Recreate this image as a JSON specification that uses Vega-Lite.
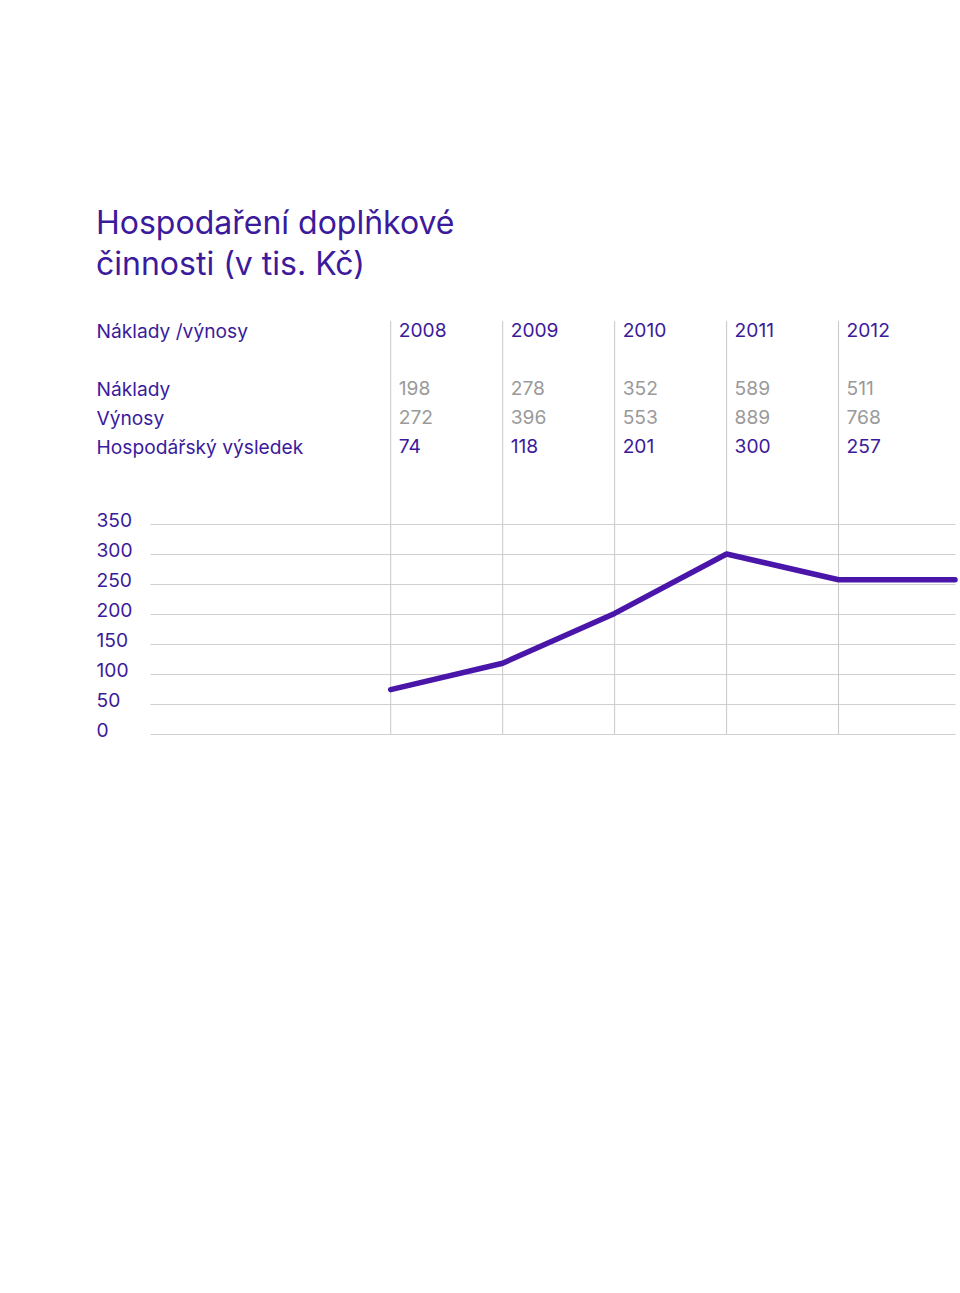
{
  "$schema": "https://vega.github.io/schema/vega-lite/v6.json",
  "background": "white",
  "padding": {"left": 96, "top": 207, "right": 5, "bottom": 5},
  "autosize": {"type": "pad"},
  "bounds": "flush",
  "title": {
    "text": ["Hospodaření doplňkové", "činnosti (v tis. Kč)"],
    "anchor": "start",
    "frame": "bounds",
    "font": "Inter",
    "fontSize": 32,
    "fontWeight": 400,
    "color": "#3b1a9c",
    "lineHeight": 41,
    "offset": 39
  },
  "config": {"view": {"stroke": null}, "font": "Inter"},
  "datasets": {
    "years": [
      {"year": 2008}, {"year": 2009}, {"year": 2010}, {"year": 2011}, {"year": 2012}
    ],
    "table": [
      {"year": 2008, "row": "Náklady /výnosy", "label": "2008"},
      {"year": 2009, "row": "Náklady /výnosy", "label": "2009"},
      {"year": 2010, "row": "Náklady /výnosy", "label": "2010"},
      {"year": 2011, "row": "Náklady /výnosy", "label": "2011"},
      {"year": 2012, "row": "Náklady /výnosy", "label": "2012"},
      {"year": 2008, "row": "Náklady", "label": "198"},
      {"year": 2009, "row": "Náklady", "label": "278"},
      {"year": 2010, "row": "Náklady", "label": "352"},
      {"year": 2011, "row": "Náklady", "label": "589"},
      {"year": 2012, "row": "Náklady", "label": "511"},
      {"year": 2008, "row": "Výnosy", "label": "272"},
      {"year": 2009, "row": "Výnosy", "label": "396"},
      {"year": 2010, "row": "Výnosy", "label": "553"},
      {"year": 2011, "row": "Výnosy", "label": "889"},
      {"year": 2012, "row": "Výnosy", "label": "768"},
      {"year": 2008, "row": "Hospodářský výsledek", "label": "74"},
      {"year": 2009, "row": "Hospodářský výsledek", "label": "118"},
      {"year": 2010, "row": "Hospodářský výsledek", "label": "201"},
      {"year": 2011, "row": "Hospodářský výsledek", "label": "300"},
      {"year": 2012, "row": "Hospodářský výsledek", "label": "257"}
    ],
    "series": [
      {"year": 2008, "value": 74},
      {"year": 2009, "value": 118},
      {"year": 2010, "value": 201},
      {"year": 2011, "value": 300},
      {"year": 2012, "value": 257},
      {"year": 2013.04, "value": 257}
    ]
  },
  "spacing": 0,
  "vconcat": [
    {
      "width": 805,
      "height": 203,
      "layer": [
        {
          "data": {"name": "years"},
          "mark": {"type": "rule", "color": "#c8c8c8", "strokeWidth": 1},
          "encoding": {
            "x": {"field": "year", "type": "quantitative", "scale": {"domain": [2005.85, 2013.04], "nice": false, "zero": false}, "axis": null}
          }
        },
        {
          "data": {"name": "table"},
          "mark": {"type": "text", "align": "left", "baseline": "middle", "dx": 8, "fontSize": 19.2, "font": "Inter"},
          "encoding": {
            "x": {"field": "year", "type": "quantitative", "scale": {"domain": [2005.85, 2013.04], "nice": false, "zero": false}, "axis": null},
            "y": {
              "field": "row",
              "type": "ordinal",
              "scale": {"type": "point", "domain": ["Náklady /výnosy", " ", "Náklady", "Výnosy", "Hospodářský výsledek", "  ", "   "], "padding": 0.5, "align": 0.345},
              "axis": {"title": null, "domain": false, "ticks": false, "tickSize": 0, "labelAlign": "left", "labelBaseline": "middle", "labelPadding": 54, "labelLimit": 400, "labelFontSize": 19.2, "labelFont": "Inter", "labelColor": "#3b1a9c", "grid": false}
            },
            "text": {"field": "label"},
            "color": {
              "field": "row",
              "type": "nominal",
              "scale": {"domain": ["Náklady /výnosy", "Náklady", "Výnosy", "Hospodářský výsledek"], "range": ["#3b1a9c", "#9a9a9a", "#9a9a9a", "#3b1a9c"]},
              "legend": null
            }
          }
        }
      ]
    },
    {
      "width": 805,
      "height": 210,
      "layer": [
        {
          "data": {"name": "years"},
          "mark": {"type": "rule", "color": "#c8c8c8", "strokeWidth": 1},
          "encoding": {
            "x": {"field": "year", "type": "quantitative", "scale": {"domain": [2005.85, 2013.04], "nice": false, "zero": false}, "axis": null}
          }
        },
        {
          "data": {"name": "series"},
          "mark": {"type": "line", "color": "#4a16aa", "strokeWidth": 5.5, "strokeCap": "round", "strokeJoin": "round", "clip": false},
          "encoding": {
            "x": {"field": "year", "type": "quantitative", "scale": {"domain": [2005.85, 2013.04], "nice": false, "zero": false}, "axis": null},
            "y": {
              "field": "value",
              "type": "quantitative",
              "scale": {"domain": [0, 350], "nice": false},
              "axis": {"title": null, "values": [0, 50, 100, 150, 200, 250, 300, 350], "domain": false, "ticks": false, "tickSize": 0, "labelAlign": "left", "labelBaseline": "middle", "labelOffset": -4, "labelPadding": 54, "labelFontSize": 19.2, "labelFont": "Inter", "labelColor": "#3b1a9c", "grid": true, "gridColor": "#d0d0d0", "gridWidth": 1}
            }
          }
        }
      ]
    }
  ]
}
